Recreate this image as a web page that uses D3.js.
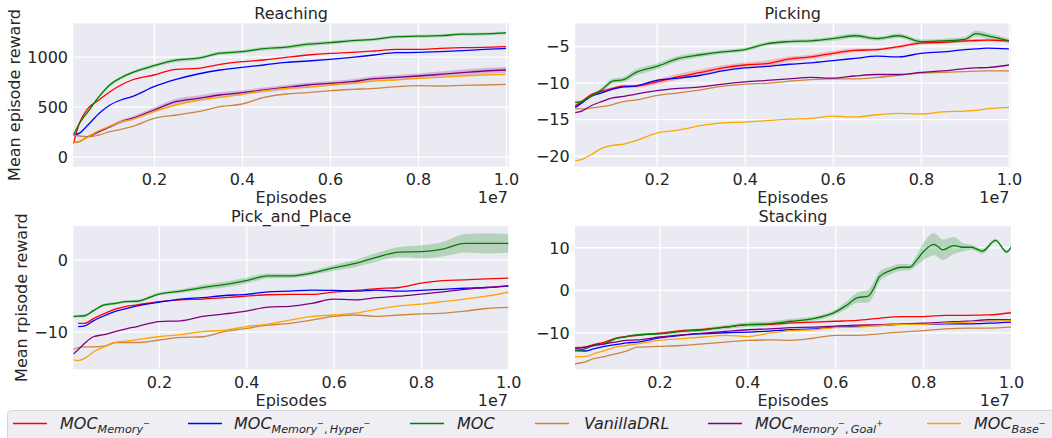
<!DOCTYPE html>
<html>
<head>
<meta charset="utf-8">
<script src="https://cdn.jsdelivr.net/npm/d3@7"></script>
<style>
  body { margin: 0; background: #ffffff; }
  svg { display: block; }
  text { font-family: "DejaVu Sans", sans-serif; fill: #262626; }
</style>
</head>
<body>
<svg id="chart" width="1052" height="438"></svg>
<script>
// ---------------- data (episodes in units of 1e7) ----------------
const xTickValues = [0.2, 0.4, 0.6, 0.8, 1.0];

// Reaching
const reachingEpisodes = [0.017, 0.03, 0.05, 0.075, 0.1, 0.125, 0.15, 0.2, 0.25, 0.3, 0.35, 0.4, 0.45, 0.5, 0.55, 0.6, 0.65, 0.7, 0.75, 0.8, 0.85, 0.9, 0.95, 1.0];
const reachingMemoryMinus = [133, 330, 483, 567, 650, 717, 767, 817, 873, 883, 923, 950, 967, 993, 1017, 1033, 1043, 1057, 1073, 1073, 1083, 1090, 1093, 1100];
const reachingHyperMinus = [217, 233, 317, 433, 517, 567, 600, 700, 773, 827, 867, 893, 917, 943, 957, 973, 993, 1017, 1040, 1043, 1050, 1060, 1073, 1083];
const reachingMoc = [217, 330, 450, 600, 720, 790, 840, 910, 965, 985, 1035, 1050, 1080, 1095, 1125, 1140, 1160, 1173, 1200, 1205, 1210, 1225, 1228, 1238];
const reachingMocSpread = [10, 12, 15, 15, 15, 15, 15, 18, 20, 18, 18, 18, 18, 18, 20, 18, 15, 15, 15, 15, 15, 15, 15, 15];
const reachingVanilla = [217, 207, 200, 217, 250, 273, 300, 383, 417, 450, 500, 527, 593, 627, 640, 660, 673, 683, 700, 710, 707, 713, 717, 723];
const reachingGoalPlus = [140, 150, 200, 250, 300, 350, 383, 467, 550, 583, 617, 640, 667, 693, 717, 733, 750, 780, 793, 807, 823, 840, 857, 867];
const reachingGoalPlusSpread = [5, 5, 10, 12, 15, 18, 20, 25, 30, 30, 28, 25, 25, 25, 25, 25, 25, 25, 25, 25, 28, 30, 30, 30];
const reachingBaseMinus = [140, 150, 200, 260, 307, 350, 373, 450, 517, 567, 593, 623, 660, 683, 693, 717, 733, 757, 767, 783, 793, 807, 817, 823];

// Picking
const pickingEpisodes = [0.015, 0.03, 0.05, 0.075, 0.1, 0.125, 0.15, 0.2, 0.25, 0.3, 0.35, 0.4, 0.45, 0.5, 0.55, 0.6, 0.65, 0.7, 0.75, 0.8, 0.85, 0.9, 0.925, 0.95, 1.0];
const pickingMemoryMinus = [-13.2, -12.6, -11.7, -11.2, -10.8, -10.5, -10.5, -9.9, -9.2, -8.6, -8.0, -7.6, -7.4, -6.8, -6.5, -6.0, -5.6, -5.5, -5.1, -4.6, -4.5, -4.3, -4.25, -4.2, -4.3];
const pickingMemoryMinusSpread = [0.2, 0.2, 0.2, 0.2, 0.2, 0.2, 0.2, 0.35, 0.4, 0.4, 0.35, 0.35, 0.4, 0.35, 0.3, 0.3, 0.25, 0.2, 0.2, 0.2, 0.2, 0.2, 0.2, 0.2, 0.2];
const pickingHyperMinus = [-13.4, -12.8, -11.9, -11.4, -10.9, -10.6, -10.5, -9.7, -9.4, -9.0, -8.4, -8.0, -7.8, -7.5, -7.3, -7.0, -6.7, -6.4, -6.5, -6.0, -5.8, -5.5, -5.4, -5.3, -5.4];
const pickingMoc = [-12.7, -12.6, -11.9, -11.0, -9.8, -9.6, -8.7, -7.8, -6.7, -6.2, -5.8, -5.5, -4.7, -4.4, -4.3, -4.0, -3.6, -4.0, -3.6, -4.4, -4.3, -4.1, -3.3, -3.6, -4.3];
const pickingMocSpread = [0.2, 0.2, 0.25, 0.3, 0.35, 0.35, 0.4, 0.4, 0.35, 0.3, 0.25, 0.25, 0.25, 0.25, 0.25, 0.3, 0.3, 0.25, 0.3, 0.3, 0.3, 0.35, 0.4, 0.4, 0.3];
const pickingVanilla = [-13.6, -13.6, -13.5, -13.3, -13.0, -12.6, -12.4, -11.8, -11.4, -11.0, -10.5, -10.2, -10.1, -9.8, -9.6, -9.5, -9.5, -9.3, -9.0, -8.7, -8.6, -8.5, -8.45, -8.4, -8.4];
const pickingGoalPlus = [-14.1, -13.9, -13.2, -12.6, -12.1, -11.9, -11.6, -11.1, -10.8, -10.6, -10.2, -9.9, -9.7, -9.5, -9.3, -9.4, -9.1, -8.9, -8.9, -8.6, -8.4, -8.1, -8.0, -7.95, -7.6];
const pickingBaseMinus = [-20.7, -20.5, -19.9, -19.0, -18.6, -18.4, -18.0, -16.9, -16.5, -15.9, -15.5, -15.4, -15.2, -15.0, -14.9, -14.6, -14.7, -14.4, -14.2, -14.3, -14.0, -13.9, -13.8, -13.6, -13.4];

// Pick_and_Place
const placeEpisodes = [0.004, 0.015, 0.03, 0.05, 0.075, 0.1, 0.125, 0.15, 0.2, 0.25, 0.3, 0.35, 0.4, 0.45, 0.5, 0.55, 0.6, 0.65, 0.7, 0.75, 0.8, 0.85, 0.9, 0.95, 1.0];
const placeMemoryMinus = [null, -8.85, -8.85, -8.2, -7.5, -6.9, -6.5, -6.3, -5.85, -5.6, -5.5, -5.3, -5.1, -4.9, -4.85, -4.85, -4.55, -4.3, -4.05, -3.9, -3.3, -2.95, -2.85, -2.7, -2.6];
const placeHyperMinus = [null, -9.3, -9.2, -8.5, -7.8, -7.2, -6.8, -6.45, -5.95, -5.5, -5.3, -5.0, -4.85, -4.5, -4.4, -4.25, -4.3, -4.4, -4.25, -4.4, -4.3, -4.15, -4.0, -3.9, -3.7];
const placeMoc = [-7.9, -7.85, -7.8, -7.1, -6.3, -6.1, -5.85, -5.8, -4.8, -4.4, -3.9, -3.5, -2.95, -2.3, -2.3, -1.9, -1.2, -0.55, 0.3, 1.0, 1.05, 1.4, 2.2, 2.2, 2.2];
const placeMocSpread = [0.2, 0.2, 0.2, 0.2, 0.2, 0.2, 0.2, 0.2, 0.2, 0.25, 0.35, 0.4, 0.4, 0.35, 0.3, 0.3, 0.4, 0.5, 0.6, 0.7, 0.9, 1.0, 1.3, 1.4, 1.3];
const placeVanilla = [-12.45, -12.2, -12.1, -12.1, -12.0, -11.5, -11.5, -11.5, -11.15, -10.8, -10.7, -10.0, -9.55, -9.1, -8.85, -8.4, -7.9, -7.7, -7.9, -7.7, -7.55, -7.45, -7.15, -6.8, -6.65];
const placeGoalPlus = [-13.1, -12.5, -11.6, -10.7, -10.4, -10.0, -9.6, -9.3, -8.6, -8.5, -7.9, -7.55, -7.15, -6.6, -6.5, -6.1, -5.5, -5.6, -5.3, -5.1, -4.8, -4.5, -4.15, -3.9, -3.65];
const placeBaseMinus = [-13.9, -14.0, -13.7, -12.8, -12.1, -11.5, -11.3, -11.1, -10.7, -10.4, -10.0, -9.8, -9.3, -8.95, -8.4, -7.9, -7.7, -7.45, -6.9, -6.45, -6.2, -5.85, -5.5, -5.1, -4.55];

// Stacking
const stackingEpisodes = [0.008, 0.03, 0.05, 0.075, 0.1, 0.125, 0.15, 0.2, 0.25, 0.3, 0.35, 0.4, 0.45, 0.5, 0.55, 0.6, 0.65, 0.7, 0.75, 0.8, 0.85, 0.9, 0.95, 1.0];
const stackingMemoryMinus = [-13.6, -13.5, -12.9, -12.3, -11.4, -11.0, -10.7, -10.2, -9.6, -9.3, -8.8, -8.2, -8.15, -7.8, -7.6, -7.4, -7.2, -6.7, -6.3, -6.3, -6.0, -6.0, -5.9, -5.4];
const stackingHyperMinus = [-14.3, -14.4, -13.9, -13.3, -12.9, -12.5, -12.3, -11.3, -10.7, -10.35, -10.1, -9.95, -9.7, -9.4, -9.2, -8.8, -8.6, -8.4, -8.15, -8.15, -8.0, -8.0, -7.85, -7.6];
const stackingMocEpisodes = [0.008, 0.03, 0.05, 0.075, 0.1, 0.125, 0.15, 0.2, 0.25, 0.3, 0.35, 0.4, 0.45, 0.5, 0.55, 0.6, 0.625, 0.65, 0.675, 0.69, 0.7, 0.725, 0.75, 0.77, 0.785, 0.8, 0.825, 0.845, 0.87, 0.89, 0.91, 0.935, 0.965, 0.99, 1.0];
const stackingMoc = [-14.3, -13.9, -13.1, -12.7, -11.5, -11.0, -10.6, -10.35, -9.8, -9.4, -8.8, -8.2, -8.0, -7.4, -6.8, -5.25, -3.7, -1.9, -1.5, 0.8, 3.0, 4.5, 5.3, 5.3, 6.9, 8.9, 10.7, 9.4, 10.4, 10.0, 10.0, 9.1, 11.6, 8.9, 10.0];
const stackingMocSpread = [0.3, 0.3, 0.3, 0.3, 0.3, 0.3, 0.3, 0.3, 0.35, 0.4, 0.5, 0.55, 0.6, 0.6, 0.5, 0.6, 0.9, 1.2, 1.5, 1.5, 1.2, 0.9, 0.8, 0.7, 1.2, 2.0, 2.6, 2.4, 2.0, 1.0, 0.6, 0.6, 0.4, 0.4, 0.4];
const stackingVanilla = [-17.4, -17.0, -16.2, -15.7, -15.1, -14.4, -13.5, -13.3, -13.1, -12.7, -12.3, -11.9, -11.8, -11.9, -11.4, -10.7, -10.7, -10.35, -9.95, -9.6, -9.2, -9.0, -9.0, -8.8];
const stackingGoalPlus = [-13.9, -13.5, -13.1, -12.7, -12.3, -11.9, -11.8, -11.1, -10.6, -10.2, -9.8, -9.4, -9.2, -8.9, -8.8, -8.55, -8.3, -8.2, -8.0, -7.85, -7.6, -7.4, -7.05, -7.0];
const stackingBaseMinus = [-15.7, -15.7, -15.1, -14.3, -13.5, -13.1, -12.7, -11.9, -11.5, -11.1, -10.7, -11.0, -10.2, -9.6, -9.4, -8.9, -8.8, -8.4, -8.15, -8.15, -7.85, -7.6, -7.4, -7.2];

// ---------------- styling ----------------
const COLORS = {
  memoryMinus: "#ff0000",
  hyperMinus: "#0000ff",
  moc: "#008000",
  vanilla: "#cd853f",
  goalPlus: "#800080",
  baseMinus: "#ffa500"
};
const FONT = 16;

function series(key, xs, ys, spread) {
  return { key, color: COLORS[key], xs, ys, spread };
}

const panels = [
  {
    title: "Reaching", ylabel: "Mean episode reward", ylabelX: 20,
    box: { x0: 73.3, x1: 509, y0: 23.3, y1: 166.7 },
    xDomain: [0.0166, 1.0068], yDomain: [-100, 1334], yTicks: [0, 500, 1000],
    series: [
      series("memoryMinus", reachingEpisodes, reachingMemoryMinus),
      series("hyperMinus", reachingEpisodes, reachingHyperMinus),
      series("moc", reachingEpisodes, reachingMoc, reachingMocSpread),
      series("vanilla", reachingEpisodes, reachingVanilla),
      series("goalPlus", reachingEpisodes, reachingGoalPlus, reachingGoalPlusSpread),
      series("baseMinus", reachingEpisodes, reachingBaseMinus)
    ]
  },
  {
    title: "Picking", ylabel: null,
    box: { x0: 575, x1: 1010.5, y0: 23.3, y1: 166.7 },
    xDomain: [0.0145, 1.0035], yDomain: [-21.5, -1.9], yTicks: [-20, -15, -10, -5],
    series: [
      series("memoryMinus", pickingEpisodes, pickingMemoryMinus, pickingMemoryMinusSpread),
      series("hyperMinus", pickingEpisodes, pickingHyperMinus),
      series("moc", pickingEpisodes, pickingMoc, pickingMocSpread),
      series("vanilla", pickingEpisodes, pickingVanilla),
      series("goalPlus", pickingEpisodes, pickingGoalPlus),
      series("baseMinus", pickingEpisodes, pickingBaseMinus)
    ]
  },
  {
    title: "Pick_and_Place", ylabel: "Mean rpisode reward", ylabelX: 27,
    box: { x0: 73.3, x1: 509, y0: 226, y1: 369.3 },
    xDomain: [0.004, 1.0016], yDomain: [-15.2, 4.6], yTicks: [-10, 0],
    series: [
      series("memoryMinus", placeEpisodes, placeMemoryMinus),
      series("hyperMinus", placeEpisodes, placeHyperMinus),
      series("moc", placeEpisodes, placeMoc, placeMocSpread),
      series("vanilla", placeEpisodes, placeVanilla),
      series("goalPlus", placeEpisodes, placeGoalPlus),
      series("baseMinus", placeEpisodes, placeBaseMinus)
    ]
  },
  {
    title: "Stacking", ylabel: null,
    box: { x0: 575, x1: 1011, y0: 226, y1: 369.3 },
    xDomain: [0.008, 1.0], yDomain: [-18.7, 15.0], yTicks: [-10, 0, 10],
    series: [
      series("memoryMinus", stackingEpisodes, stackingMemoryMinus),
      series("hyperMinus", stackingEpisodes, stackingHyperMinus),
      series("moc", stackingMocEpisodes, stackingMoc, stackingMocSpread),
      series("vanilla", stackingEpisodes, stackingVanilla),
      series("goalPlus", stackingEpisodes, stackingGoalPlus),
      series("baseMinus", stackingEpisodes, stackingBaseMinus)
    ]
  }
];

// ---------------- drawing ----------------
const svg = d3.select("#chart");
const minus = s => String(s).replace("-", "\u2212");

panels.forEach((p, i) => {
  const { x0, x1, y0, y1 } = p.box;
  const x = d3.scaleLinear().domain(p.xDomain).range([x0, x1]);
  const y = d3.scaleLinear().domain(p.yDomain).range([y1, y0]);
  const g = svg.append("g");

  g.append("rect")
    .attr("x", x0).attr("y", y0)
    .attr("width", x1 - x0).attr("height", y1 - y0)
    .attr("fill", "#eaeaf2");

  // x axis with white grid lines
  const gx = g.append("g")
    .attr("transform", `translate(0,${y1})`)
    .call(d3.axisBottom(x).tickValues(xTickValues)
      .tickSize(-(y1 - y0)).tickPadding(6.9)
      .tickFormat(d3.format(".1f")));
  // y axis with white grid lines
  const gy = g.append("g")
    .attr("transform", `translate(${x0},0)`)
    .call(d3.axisLeft(y).tickValues(p.yTicks)
      .tickSize(-(x1 - x0)).tickPadding(5.3)
      .tickFormat(d => minus(d)));
  [gx, gy].forEach(a => {
    a.select(".domain").remove();
    a.selectAll(".tick line").attr("stroke", "#ffffff").attr("stroke-width", 1.3);
    a.selectAll(".tick text")
      .attr("fill", "#262626")
      .style("font-family", '"DejaVu Sans", sans-serif')
      .style("font-size", FONT + "px");
  });
  gy.selectAll(".tick text").attr("dy", "0.36em");

  // clip region for curves
  const clipId = "clip" + i;
  svg.append("clipPath").attr("id", clipId)
    .append("rect").attr("x", x0).attr("y", y0)
    .attr("width", x1 - x0).attr("height", y1 - y0);
  const plot = g.append("g").attr("clip-path", `url(#${clipId})`);

  p.series.forEach(s => {
    const pts = s.xs.map((xv, k) => ({ x: xv, y: s.ys[k], e: s.spread ? s.spread[k] : 0 }))
      .filter(d => d.y !== null);
    if (s.spread) {
      plot.append("path")
        .datum(pts)
        .attr("fill", s.color).attr("fill-opacity", 0.22).attr("stroke", "none")
        .attr("d", d3.area().curve(d3.curveMonotoneX)
          .x(d => x(d.x)).y0(d => y(d.y - d.e)).y1(d => y(d.y + d.e)));
    }
  });
  p.series.forEach(s => {
    const pts = s.xs.map((xv, k) => ({ x: xv, y: s.ys[k] })).filter(d => d.y !== null);
    plot.append("path")
      .datum(pts)
      .attr("fill", "none").attr("stroke", s.color).attr("stroke-width", 1.3)
      .attr("stroke-linejoin", "round")
      .attr("d", d3.line().curve(d3.curveMonotoneX).x(d => x(d.x)).y(d => y(d.y)));
  });

  // titles and labels
  g.append("text").attr("x", (x0 + x1) / 2).attr("y", y0 - 4.5)
    .attr("text-anchor", "middle").style("font-size", FONT + "px").text(p.title);
  g.append("text").attr("x", (x0 + x1) / 2).attr("y", y1 + 36.7)
    .attr("text-anchor", "middle").style("font-size", FONT + "px").text("Episodes");
  g.append("text").attr("x", x1 - 1).attr("y", y1 + 36.7)
    .attr("text-anchor", "end").style("font-size", FONT + "px").text("1e7");
  if (p.ylabel) {
    g.append("text")
      .attr("transform", `translate(${p.ylabelX},${(y0 + y1) / 2}) rotate(-90)`)
      .attr("text-anchor", "middle").style("font-size", FONT + "px").text(p.ylabel);
  }
});

// ---------------- legend ----------------
const legendEntries = [
  { key: "memoryMinus", lineX: 13, textX: 60,
    parts: [["MOC", "m"], ["Memory", "s"], ["\u2212", "ss"]] },
  { key: "hyperMinus", lineX: 188, textX: 234,
    parts: [["MOC", "m"], ["Memory", "s"], ["\u2212", "ss"], [",\u2009", "sc"], ["Hyper", "s"], ["\u2212", "ss"]] },
  { key: "moc", lineX: 410, textX: 457, parts: [["MOC", "m"]] },
  { key: "vanilla", lineX: 535, textX: 584, parts: [["VanillaDRL", "m"]] },
  { key: "goalPlus", lineX: 708, textX: 755,
    parts: [["MOC", "m"], ["Memory", "s"], ["\u2212", "ss"], [",\u2009", "sc"], ["Goal", "s"], ["+", "ss"]] },
  { key: "baseMinus", lineX: 927, textX: 974,
    parts: [["MOC", "m"], ["Base", "s"], ["\u2212", "ss"]] }
];

const legend = svg.append("g");
legend.append("rect")
  .attr("x", 7.5).attr("y", 410.5).attr("width", 1070).attr("height", 50)
  .attr("rx", 4).attr("fill", "#eeeef4").attr("stroke", "#d4d4d8").attr("stroke-width", 1);

const baseY = 429.3;
const partStyle = {
  m: { size: 16, y: baseY, italic: true },
  s: { size: 11.2, y: baseY + 3.2, italic: true },
  sc: { size: 11.2, y: baseY + 3.2, italic: false },
  ss: { size: 8.2, y: baseY - 3.4, italic: false }
};
legendEntries.forEach(e => {
  legend.append("line")
    .attr("x1", e.lineX).attr("x2", e.lineX + 34)
    .attr("y1", 423.5).attr("y2", 423.5)
    .attr("stroke", COLORS[e.key]).attr("stroke-width", 1.3);
  const t = legend.append("text").attr("x", e.textX).attr("y", baseY);
  e.parts.forEach(([str, kind]) => {
    const st = partStyle[kind];
    t.append("tspan")
      .attr("y", st.y)
      .style("font-size", st.size + "px")
      .style("font-style", st.italic ? "italic" : "normal")
      .text(str);
  });
});
</script>
</body>
</html>
